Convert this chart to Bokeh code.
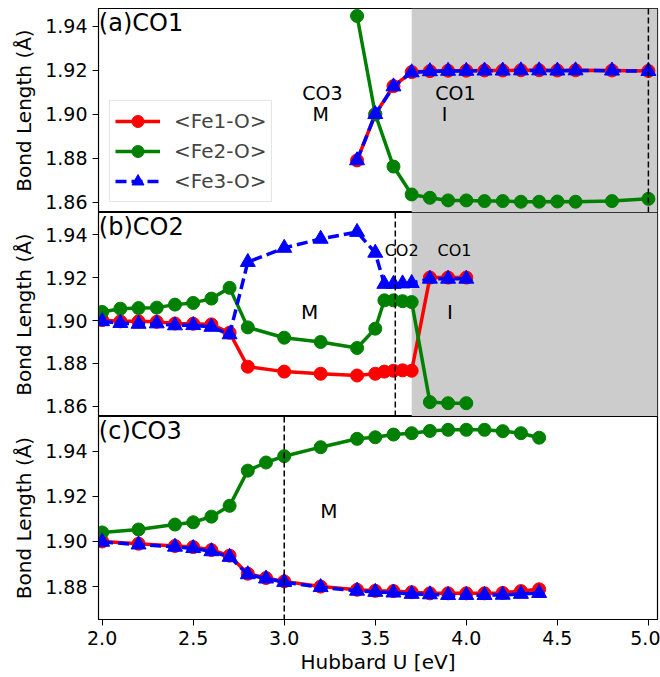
from bokeh.plotting import figure
from bokeh.layouts import column
from bokeh.models import (Range1d, FixedTicker, PrintfTickFormatter, BoxAnnotation,
                          Span, Label, Legend, LegendItem)
from bokeh.embed import file_html
from bokeh.resources import INLINE

# ---------------- data ----------------
# (a) CO1 start
u_a = [3.4, 3.5, 3.6, 3.7, 3.8, 3.9, 4.0, 4.1, 4.2, 4.3, 4.4, 4.5, 4.6, 4.8, 5.0]
fe1_a = [1.879, 1.900, 1.9128, 1.9192, 1.9196, 1.9198, 1.9198, 1.9199, 1.9199, 1.9200, 1.9200, 1.9199, 1.9200, 1.9199, 1.9197]
fe2_a = [1.9447, 1.900, 1.8762, 1.8635, 1.8620, 1.8608, 1.8608, 1.8605, 1.8605, 1.8602, 1.8602, 1.8603, 1.8602, 1.8605, 1.8615]
fe3_a = [1.879, 1.900, 1.9126, 1.9190, 1.9195, 1.9197, 1.9197, 1.9198, 1.9198, 1.9199, 1.9199, 1.9198, 1.9199, 1.9198, 1.9196]

# (b) CO2 start
u_b = [2.0, 2.1, 2.2, 2.3, 2.4, 2.5, 2.6, 2.7, 2.8, 3.0, 3.2, 3.4, 3.5, 3.55, 3.6, 3.65, 3.7, 3.8, 3.9, 4.0]
fe1_b = [1.9002, 1.8996, 1.8996, 1.8994, 1.8986, 1.8985, 1.8982, 1.8943, 1.8785, 1.8762, 1.8752, 1.8744, 1.8752, 1.8762, 1.8766, 1.8768, 1.8766, 1.9200, 1.9200, 1.9200]
fe2_b = [1.9040, 1.9055, 1.9058, 1.9060, 1.9074, 1.9082, 1.9102, 1.9152, 1.8968, 1.8920, 1.8900, 1.8872, 1.8962, 1.9094, 1.9094, 1.9090, 1.9086, 1.8620, 1.8615, 1.8615]
fe3_b = [1.8996, 1.8988, 1.8984, 1.8986, 1.8977, 1.8978, 1.8970, 1.8935, 1.9272, 1.9338, 1.9380, 1.9412, 1.9315, 1.9170, 1.9170, 1.9172, 1.9174, 1.9194, 1.9194, 1.9194]

# (c) CO3 start
u_c = [2.0, 2.2, 2.4, 2.5, 2.6, 2.7, 2.8, 2.9, 3.0, 3.2, 3.4, 3.5, 3.6, 3.7, 3.8, 3.9, 4.0, 4.1, 4.2, 4.3, 4.4]
fe1_c = [1.9000, 1.8990, 1.8980, 1.8975, 1.8962, 1.8937, 1.8857, 1.8838, 1.8823, 1.8800, 1.8786, 1.8781, 1.8780, 1.8775, 1.8770, 1.8770, 1.8770, 1.8770, 1.8772, 1.8780, 1.8788]
fe2_c = [1.9040, 1.9053, 1.9075, 1.9085, 1.9110, 1.9158, 1.9314, 1.9350, 1.9378, 1.9418, 1.9455, 1.9462, 1.9474, 1.9480, 1.9490, 1.9495, 1.9495, 1.9495, 1.9489, 1.9480, 1.9460]
fe3_c = [1.8998, 1.8986, 1.8976, 1.8970, 1.8956, 1.8931, 1.8854, 1.8835, 1.8820, 1.8797, 1.8781, 1.8776, 1.8773, 1.8767, 1.8765, 1.8762, 1.8762, 1.8762, 1.8763, 1.8767, 1.8771]

series_labels = ["<Fe1-O>", "<Fe2-O>", "<Fe3-O>"]
panel_titles = ["(a)CO1", "(b)CO2", "(c)CO3"]
y_ticks = [1.86, 1.88, 1.90, 1.92, 1.94]
x_ticks = [2.0, 2.5, 3.0, 3.5, 4.0, 4.5, 5.0]
x_label = "Hubbard U [eV]"
y_label = "Bond Length (Å)"

FONT = "DejaVu Sans"
W = 660
LEFT = 98
RIGHT = 3


def make_fig(height, ylo, yhi, top, bottom, show_x):
    p = figure(width=W, height=height, output_backend="svg", toolbar_location=None,
               x_range=Range1d(1.98, 5.05), y_range=Range1d(ylo, yhi),
               min_border_left=LEFT, min_border_right=RIGHT,
               min_border_top=top, min_border_bottom=bottom)
    p.xgrid.visible = False
    p.ygrid.visible = False
    p.outline_line_color = "black"
    p.outline_line_width = 1.2
    p.background_fill_color = "white"
    p.border_fill_color = "white"
    for ax in (p.xaxis[0], p.yaxis[0]):
        ax.axis_line_color = "black"
        ax.major_tick_line_color = "black"
        ax.major_tick_out = 6
        ax.major_tick_in = 0
        ax.minor_tick_out = 0
        ax.minor_tick_in = 0
        ax.major_label_text_font = FONT
        ax.major_label_text_font_size = "19px"
        ax.major_label_text_color = "black"
        ax.axis_label_text_font = FONT
        ax.axis_label_text_font_size = "20px"
        ax.axis_label_text_font_style = "normal"
        ax.axis_label_text_color = "black"
        ax.major_label_standoff = 5
    p.yaxis.ticker = FixedTicker(ticks=y_ticks)
    p.yaxis.formatter = PrintfTickFormatter(format="%.2f")
    p.yaxis.axis_label = y_label
    p.yaxis.axis_label_standoff = 6
    p.xaxis.ticker = FixedTicker(ticks=x_ticks)
    p.xaxis.formatter = PrintfTickFormatter(format="%.1f")
    if show_x:
        p.xaxis.axis_label = x_label
        p.xaxis.axis_label_standoff = 2
    else:
        p.xaxis.visible = False
    return p


def draw_series(p, u, f1, f2, f3):
    r1l = p.line(u, f1, line_color="red", line_width=3.5)
    r1m = p.scatter(u, f1, marker="circle", size=13, color="red")
    r2l = p.line(u, f2, line_color="green", line_width=3.5)
    r2m = p.scatter(u, f2, marker="circle", size=13, color="green")
    r3l = p.line(u, f3, line_color="blue", line_width=3.5, line_dash="11 5")
    r3m = p.scatter(u, f3, marker="triangle", size=15, color="blue")
    return [(r1l, r1m), (r2l, r2m), (r3l, r3m)]


def add_text(p, x, y, txt, size="19px", align="center", baseline="middle"):
    p.add_layout(Label(x=x, y=y, text=txt, text_font=FONT, text_font_size=size,
                       text_align=align, text_baseline=baseline, text_color="black"))


# panel (a)
pa = make_fig(212, 1.8553, 1.9481, 8, 0, False)
pa.add_layout(BoxAnnotation(left=3.7, fill_color="#cccccc", fill_alpha=1.0,
                            line_color=None, level="underlay"))
rends = draw_series(pa, u_a, fe1_a, fe2_a, fe3_a)
pa.add_layout(Span(location=5.0, dimension="height", line_color="black",
                   line_dash="6 3", line_width=1.5))
add_text(pa, 1.982, 1.9481, panel_titles[0], size="24px", align="left", baseline="top")
add_text(pa, 3.21, 1.9096, "CO3")
add_text(pa, 3.2, 1.9003, "M")
add_text(pa, 3.94, 1.9096, "CO1")
add_text(pa, 3.88, 1.9003, "I")
legend = Legend(items=[LegendItem(label=series_labels[i], renderers=list(rends[i]))
                       for i in range(3)],
                location=(11, 10), label_text_font=FONT, label_text_font_size="20px",
                glyph_width=45, glyph_height=30, label_height=30, label_standoff=14,
                spacing=0, padding=5, margin=0, border_line_color="#cccccc",
                border_line_width=1.2, background_fill_alpha=0.85)
pa.add_layout(legend)

# panel (b)
pb = make_fig(204, 1.8553, 1.9503, 0, 0, False)
pb.add_layout(BoxAnnotation(left=3.7, fill_color="#cccccc", fill_alpha=1.0,
                            line_color=None, level="underlay"))
draw_series(pb, u_b, fe1_b, fe2_b, fe3_b)
pb.add_layout(Span(location=3.61, dimension="height", line_color="black",
                   line_dash="6 3", line_width=1.5))
add_text(pb, 1.982, 1.9503, panel_titles[1], size="24px", align="left", baseline="top")
add_text(pb, 3.14, 1.9038, "M", size="20px")
add_text(pb, 3.91, 1.9038, "I", size="20px")
add_text(pb, 3.645, 1.9325, "CO2", size="16px")
add_text(pb, 3.935, 1.9325, "CO1", size="16px")

# panel (c)
pc = make_fig(261, 1.8654, 1.9554, 0, 58, True)
draw_series(pc, u_c, fe1_c, fe2_c, fe3_c)
pc.add_layout(Span(location=3.0, dimension="height", line_color="black",
                   line_dash="6 3", line_width=1.5))
add_text(pc, 1.982, 1.9554, panel_titles[2], size="24px", align="left", baseline="top")
add_text(pc, 3.245, 1.9133, "M", size="20px")

layout = column(pa, pb, pc, spacing=0)
open("out.html", "w").write(file_html(layout, INLINE))
